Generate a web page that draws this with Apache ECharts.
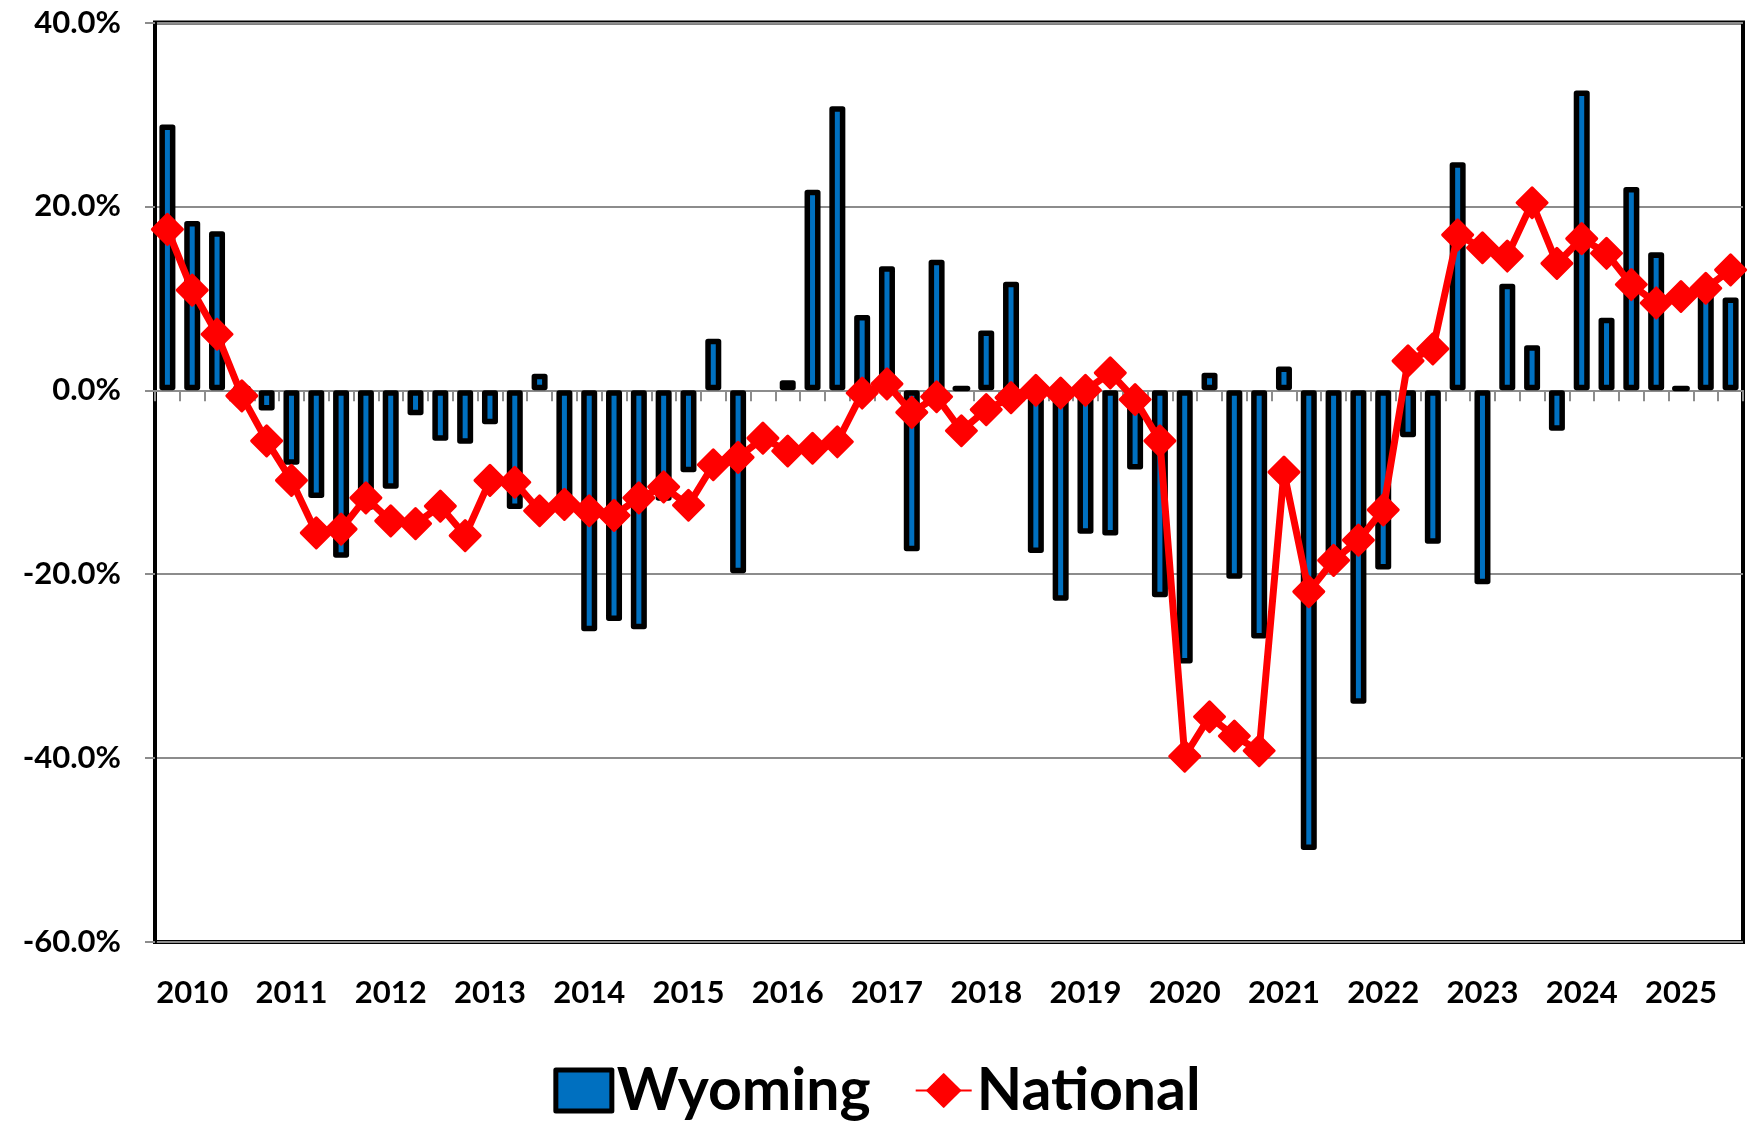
<!DOCTYPE html>
<html>
<head>
<meta charset="utf-8">
<script src="https://cdn.jsdelivr.net/npm/echarts@6/dist/echarts.min.js"></script>
<style>
html,body{margin:0;padding:0;background:#fff;}
#chart{width:1754px;height:1121px;}
</style>
</head>
<body>
<div id="chart"></div>
<script>
// Quarterly categories 2010 Q1 .. 2025 Q4
var years = ['2010','2011','2012','2013','2014','2015','2016','2017','2018','2019','2020','2021','2022','2023','2024','2025'];
var quarters = ['Q1','Q2','Q3','Q4'];

// Wyoming (bars), % change
var wyoming = [
  28.9, 18.4, 17.3, 0.4,
  -2.2, -8.1, -11.7, -18.2,
  -13.0, -10.7, -2.7, -5.5,
  -5.8, -3.7, -12.9, 1.8,
  -13.0, -26.2, -25.1, -26.0,
  -12.0, -8.9, 5.6, -19.9,
  null, 1.1, 21.8, 30.9,
  8.2, 13.5, -17.5, 14.2,
  0.4, 6.5, 11.8, -17.7,
  -22.9, -15.6, -15.8, -8.6,
  -22.5, -29.7, 1.9, -20.5,
  -27.0, 2.6, -50.0, -18.8,
  -34.1, -19.5, -5.1, -16.7,
  24.8, -21.1, 11.6, 4.9,
  -4.4, 32.6, 7.9, 22.1,
  15.0, 0.4, 11.8, 10.1
];

// National (line), % change
var national = [
  17.5, 10.9, 6.1, -0.6,
  -5.5, -9.8, -15.5, -15.1,
  -11.7, -14.2, -14.5, -12.6,
  -15.8, -9.8, -10.0, -13.1,
  -12.4, -13.1, -13.6, -11.7,
  -10.5, -12.5, -8.1, -7.3,
  -5.2, -6.6, -6.3, -5.6,
  -0.3, 0.7, -2.4, -0.7,
  -4.4, -2.1, -0.8, 0.0,
  -0.3, 0.0, 1.9, -1.0,
  -5.5, -39.8, -35.5, -37.6,
  -39.2, -8.9, -21.9, -18.5,
  -16.3, -13.0, 3.2, 4.5,
  16.9, 15.5, 14.6, 20.4,
  13.8, 16.5, 14.9, 11.5,
  9.5, 10.2, 11.1, 13.1
];

var yTicks = {min: -60, max: 40, interval: 20};

var categories = [];
years.forEach(function (y) {
  quarters.forEach(function (q) { categories.push(y + ' ' + q); });
});

var FONT = 'Lato';
var chart = echarts.init(document.getElementById('chart'), null, {renderer: 'canvas'});

chart.setOption({
  backgroundColor: '#ffffff',
  animation: false,
  grid: {
    left: 155, right: 11, top: 22.5, bottom: 179,
    show: true, borderColor: '#000', borderWidth: 4, backgroundColor: 'transparent'
  },
  legend: {
    left: 'center',
    top: 1056,
    itemWidth: 56,
    itemHeight: 41,
    itemGap: 44,
    data: [
      {name: 'Wyoming', icon: 'rect', itemStyle: {color: '#0070C0', borderColor: '#000', borderWidth: 5}},
      {name: 'National'}
    ],
    textStyle: {fontFamily: FONT, fontWeight: 'bold', fontSize: 59, color: '#000'}
  },
  xAxis: [
    {
      type: 'category',
      data: categories,
      position: 'bottom',
      axisLine: {onZero: true, lineStyle: {color: '#8c8c8c', width: 2}},
      axisTick: {show: true, interval: 0, length: 11, lineStyle: {color: '#8c8c8c', width: 2}},
      axisLabel: {show: false},
      splitLine: {show: false}
    },
    {
      type: 'category',
      data: categories,
      position: 'bottom',
      axisLine: {show: false, onZero: false},
      axisTick: {show: false},
      splitLine: {show: false},
      axisLabel: {
        show: true,
        interval: function (index) { return index % 4 === 1; },
        formatter: function (v) { return v.slice(0, 4); },
        margin: 35,
        fontFamily: FONT, fontWeight: 'bold', fontSize: 31, color: '#000'
      }
    }
  ],
  yAxis: {
    type: 'value',
    min: yTicks.min, max: yTicks.max, interval: yTicks.interval,
    axisLine: {show: true, lineStyle: {color: '#000', width: 3}},
    axisTick: {show: true, length: 10, lineStyle: {color: '#8c8c8c', width: 2}},
    axisLabel: {
      margin: 34,
      formatter: function (v) { return v.toFixed(1) + '%'; },
      fontFamily: FONT, fontWeight: 'bold', fontSize: 31, color: '#000'
    },
    splitLine: {show: true, lineStyle: {color: '#8c8c8c', width: 2}}
  },
  series: [
    {
      name: 'Wyoming',
      type: 'bar',
      xAxisIndex: 0,
      data: wyoming,
      barWidth: 16,
      itemStyle: {color: '#0070C0', borderColor: '#000', borderWidth: 5.5, borderJoin: 'round'},
      z: 2
    },
    {
      name: 'National',
      type: 'line',
      xAxisIndex: 0,
      data: national,
      showSymbol: true,
      showAllSymbol: true,
      symbol: 'diamond',
      symbolSize: 30,
      lineStyle: {color: '#FF0000', width: 7},
      itemStyle: {color: '#FF0000', borderColor: '#FF0000', borderWidth: 3, borderJoin: 'round'},
      z: 3
    }
  ]
});
</script>
</body>
</html>
